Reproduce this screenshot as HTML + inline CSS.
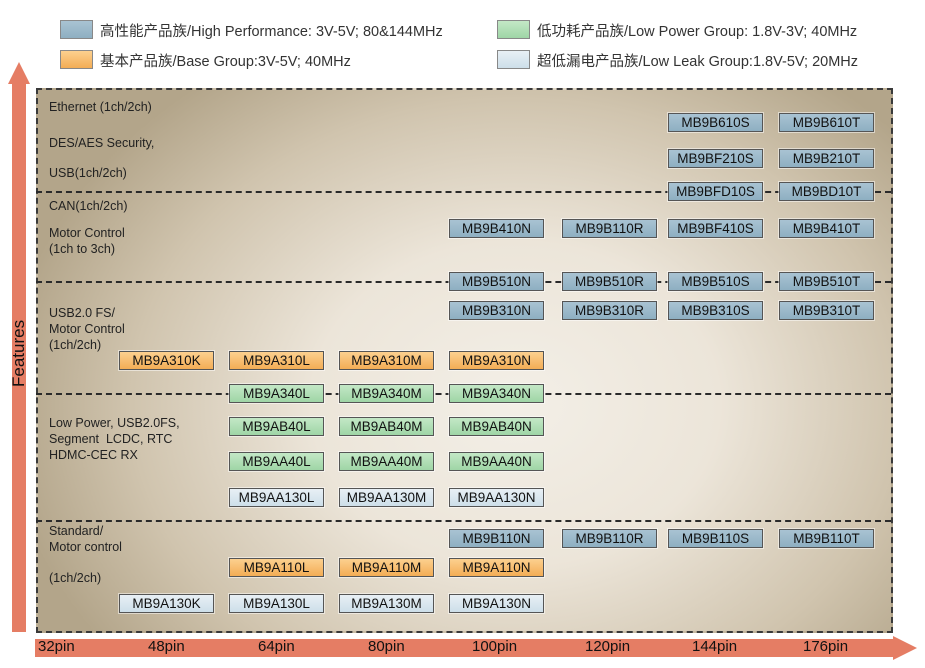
<!DOCTYPE html>
<html><head><meta charset="utf-8"><style>
body{margin:0;width:925px;height:668px;background:#fff;position:relative;overflow:hidden;font-family:"Liberation Sans","Noto Sans CJK SC",sans-serif;}
.a{position:absolute}
.panel{left:36px;top:88px;width:853px;height:541px;border:2px dashed #3a3a3a;background:radial-gradient(ellipse 60% 75% at 56% 58%,#f3efe7 0%,#ece5d9 40%,#d0c4ae 75%,#b3a58a 100%);}
.hl{position:absolute;left:36px;width:855px;border-top:2px dashed #2a2a2a;height:0}
.c{position:absolute;width:93px;height:17px;border:1px solid #555;font-size:13.5px;line-height:17px;text-align:center;color:#111;box-shadow:0 0 0 1px rgba(255,255,255,.5)}
.b{background:linear-gradient(#a9c3d3,#8eafc2)}
.o{background:linear-gradient(#fcd08f,#f3ad55)}
.g{background:linear-gradient(#c3e8c6,#9fd5a6)}
.l{background:linear-gradient(#e8f0f5,#cddfe9)}
.t{position:absolute;font-size:12.5px;color:#222;line-height:16px}
.lg{position:absolute;width:31px;height:17px;border:1px solid #888}
.lt{position:absolute;font-size:14.5px;color:#333}
.pin{position:absolute;top:638px;font-size:15px;color:#111}
</style></head><body>
<div class="lg b" style="left:60px;top:20px"></div><div class="lt" style="left:100px;top:20px">高性能产品族/High Performance: 3V-5V; 80&amp;144MHz</div>
<div class="lg o" style="left:60px;top:50px"></div><div class="lt" style="left:100px;top:50px">基本产品族/Base Group:3V-5V; 40MHz</div>
<div class="lg g" style="left:497px;top:20px"></div><div class="lt" style="left:537px;top:20px">低功耗产品族/Low Power Group: 1.8V-3V; 40MHz</div>
<div class="lg l" style="left:497px;top:50px"></div><div class="lt" style="left:537px;top:50px">超低漏电产品族/Low Leak Group:1.8V-5V; 20MHz</div>

<div class="a" style="left:12px;top:84px;width:14px;height:548px;background:#e57d64"></div>
<div class="a" style="left:8px;top:62px;width:0;height:0;border-left:11px solid transparent;border-right:11px solid transparent;border-bottom:22px solid #e57d64"></div>
<div class="a" style="left:-13px;top:345px;width:64px;height:20px;transform:rotate(-90deg);font-size:17px;color:#111;text-align:center">Features</div>

<div class="a" style="left:35px;top:639px;width:860px;height:18px;background:#e57d64"></div>
<div class="a" style="left:893px;top:636px;width:0;height:0;border-top:12px solid transparent;border-bottom:12px solid transparent;border-left:24px solid #e57d64"></div>
<div class="pin" style="left:38px">32pin</div><div class="pin" style="left:148px">48pin</div><div class="pin" style="left:258px">64pin</div><div class="pin" style="left:368px">80pin</div><div class="pin" style="left:472px">100pin</div><div class="pin" style="left:585px">120pin</div><div class="pin" style="left:692px">144pin</div><div class="pin" style="left:803px">176pin</div>

<div class="a panel"></div>
<div class="hl" style="top:191px"></div>
<div class="hl" style="top:281px"></div>
<div class="hl" style="top:393px"></div>
<div class="hl" style="top:520px"></div>

<div class="t" style="left:49px;top:99px">Ethernet (1ch/2ch)</div>
<div class="t" style="left:49px;top:135px">DES/AES Security,</div>
<div class="t" style="left:49px;top:165px">USB(1ch/2ch)</div>
<div class="t" style="left:49px;top:198px">CAN(1ch/2ch)</div>
<div class="t" style="left:49px;top:225px">Motor Control<br>(1ch to 3ch)</div>
<div class="t" style="left:49px;top:305px">USB2.0 FS/<br>Motor Control<br>(1ch/2ch)</div>
<div class="t" style="left:49px;top:415px">Low Power, USB2.0FS,<br>Segment&nbsp; LCDC, RTC<br>HDMC-CEC RX</div>
<div class="t" style="left:49px;top:523px">Standard/<br>Motor control</div>
<div class="t" style="left:49px;top:570px">(1ch/2ch)</div>

<div class="c b" style="left:668px;top:113px">MB9B610S</div><div class="c b" style="left:779px;top:113px">MB9B610T</div>
<div class="c b" style="left:668px;top:149px">MB9BF210S</div><div class="c b" style="left:779px;top:149px">MB9B210T</div>
<div class="c b" style="left:668px;top:182px">MB9BFD10S</div><div class="c b" style="left:779px;top:182px">MB9BD10T</div>
<div class="c b" style="left:449px;top:219px">MB9B410N</div><div class="c b" style="left:562px;top:219px">MB9B110R</div><div class="c b" style="left:668px;top:219px">MB9BF410S</div><div class="c b" style="left:779px;top:219px">MB9B410T</div>
<div class="c b" style="left:449px;top:272px">MB9B510N</div><div class="c b" style="left:562px;top:272px">MB9B510R</div><div class="c b" style="left:668px;top:272px">MB9B510S</div><div class="c b" style="left:779px;top:272px">MB9B510T</div>
<div class="c b" style="left:449px;top:301px">MB9B310N</div><div class="c b" style="left:562px;top:301px">MB9B310R</div><div class="c b" style="left:668px;top:301px">MB9B310S</div><div class="c b" style="left:779px;top:301px">MB9B310T</div>
<div class="c o" style="left:119px;top:351px">MB9A310K</div><div class="c o" style="left:229px;top:351px">MB9A310L</div><div class="c o" style="left:339px;top:351px">MB9A310M</div><div class="c o" style="left:449px;top:351px">MB9A310N</div>
<div class="c g" style="left:229px;top:384px">MB9A340L</div><div class="c g" style="left:339px;top:384px">MB9A340M</div><div class="c g" style="left:449px;top:384px">MB9A340N</div>
<div class="c g" style="left:229px;top:417px">MB9AB40L</div><div class="c g" style="left:339px;top:417px">MB9AB40M</div><div class="c g" style="left:449px;top:417px">MB9AB40N</div>
<div class="c g" style="left:229px;top:452px">MB9AA40L</div><div class="c g" style="left:339px;top:452px">MB9AA40M</div><div class="c g" style="left:449px;top:452px">MB9AA40N</div>
<div class="c l" style="left:229px;top:488px">MB9AA130L</div><div class="c l" style="left:339px;top:488px">MB9AA130M</div><div class="c l" style="left:449px;top:488px">MB9AA130N</div>
<div class="c b" style="left:449px;top:529px">MB9B110N</div><div class="c b" style="left:562px;top:529px">MB9B110R</div><div class="c b" style="left:668px;top:529px">MB9B110S</div><div class="c b" style="left:779px;top:529px">MB9B110T</div>
<div class="c o" style="left:229px;top:558px">MB9A110L</div><div class="c o" style="left:339px;top:558px">MB9A110M</div><div class="c o" style="left:449px;top:558px">MB9A110N</div>
<div class="c l" style="left:119px;top:594px">MB9A130K</div><div class="c l" style="left:229px;top:594px">MB9A130L</div><div class="c l" style="left:339px;top:594px">MB9A130M</div><div class="c l" style="left:449px;top:594px">MB9A130N</div>
</body></html>
